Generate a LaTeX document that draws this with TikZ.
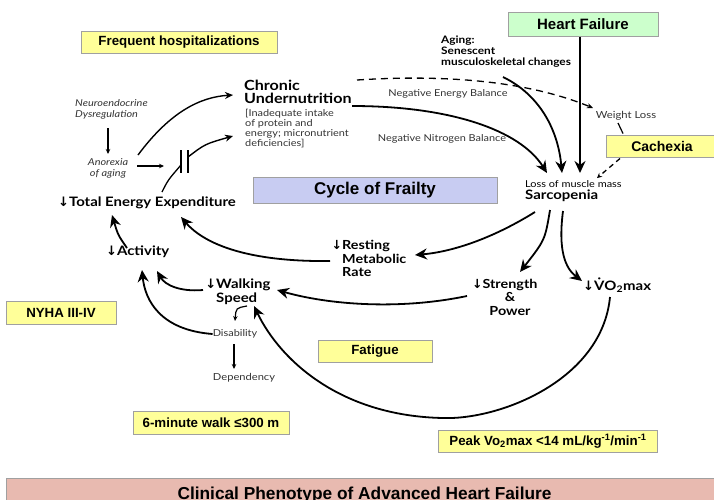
\documentclass[tikz,border=0pt]{standalone}
\usepackage{fontspec}
\setmainfont{Lato}[FakeStretch=1.15]
\newfontfamily\boxfont{Liberation Sans}
\newfontfamily\symfont{DejaVu Sans}
\usetikzlibrary{arrows.meta,calc}
\newcommand{\dn}{{\symfont\char"2193}}
\definecolor{ybox}{HTML}{FFFF99}
\definecolor{gbox}{HTML}{CCFFCC}
\definecolor{bbox}{HTML}{C8CCF2}
\definecolor{pbox}{HTML}{E8BAB0}
\definecolor{bord}{HTML}{A0A0A0}
\definecolor{txtgray}{HTML}{333333}
\tikzset{
  cbox/.style={draw=bord, line width=1pt, inner sep=0pt, font=\boxfont\bfseries\fontsize{13.3}{14}\selectfont},
  lbl/.style={inner sep=0pt},
  bigtext/.style={lbl, font=\bfseries\fontsize{13}{13}\selectfont, align=left},
  smalltext/.style={lbl, font=\fontsize{9.5}{10.5}\selectfont, text=txtgray},
  big/.style={line width=1.8pt, -{Stealth[length=12pt,width=11pt]}},
  mid/.style={line width=1.4pt, -{Stealth[length=8pt,width=7pt]}},
  thinarr/.style={line width=1.1pt, -{Stealth[length=5pt,width=4.5pt]}},
}
\begin{document}
\begin{tikzpicture}[x=1pt,y=-1pt]
\useasboundingbox (0,0) rectangle (714,499);
% boxes
\node[cbox, fill=ybox, minimum width=196pt, minimum height=22pt] (freq) at (179,42) {Frequent hospitalizations};
\node[cbox, fill=gbox, minimum width=150pt, minimum height=24pt, font=\boxfont\bfseries\fontsize{15}{16}\selectfont] (hf) at (583,24) {Heart Failure};
\node[cbox, fill=ybox, minimum width=112pt, minimum height=22pt, font=\boxfont\bfseries\fontsize{14}{15}\selectfont] (cach) at (662,146) {Cachexia};
\node[cbox, fill=bbox, minimum width=244pt, minimum height=26pt, font=\boxfont\bfseries\fontsize{17}{18}\selectfont] (cycle) at (375,190) {Cycle of Frailty};
\node[cbox, fill=ybox, minimum width=110pt, minimum height=23pt] (nyha) at (61,313) {NYHA III-IV};
\node[cbox, fill=ybox, minimum width=114pt, minimum height=22pt] (fat) at (375,351) {Fatigue};
\node[cbox, fill=ybox, minimum width=156pt, minimum height=23pt] (walk6) at (211,423) {6-minute walk ≤300 m};
\node[cbox, fill=ybox, minimum width=219pt, minimum height=22pt] (peak) at (548,441) {Peak Vo\textsubscript{2}max <14 mL/kg\textsuperscript{-1}/min\textsuperscript{-1}};
\node[cbox, fill=pbox, minimum width=716pt, minimum height=34pt, anchor=north west, font=\boxfont\bfseries\fontsize{17.3}{18}\selectfont] (clin) at (6,478) {\raisebox{2pt}{Clinical Phenotype of Advanced Heart Failure}};
% text nodes
\node[bigtext, anchor=north west, font=\bfseries\fontsize{14}{13}\selectfont] (chronic) at (244,80) {Chronic\\Undernutrition};
\node[smalltext, anchor=north west, align=left, font=\fontsize{9.5}{10}\selectfont] (inad) at (245,109) {[Inadequate intake\\of protein and\\energy; micronutrient\\deficiencies]};
\node[smalltext, anchor=north west, align=left, font=\itshape\fontsize{9.5}{11}\selectfont] (neuro) at (75,99) {Neuroendocrine\\Dysregulation};
\node[smalltext, anchor=north, align=center, font=\itshape\fontsize{9.5}{11}\selectfont] (anor) at (108,158) {Anorexia\\of aging};
\node[bigtext, anchor=north west] (tee) at (58,197) {\dn Total Energy Expenditure};
\node[bigtext, anchor=north west] (act) at (106,246) {\dn Activity};
\node[bigtext, anchor=north west, font=\bfseries\fontsize{12.5}{13.5}\selectfont] (rest) at (342,240) {\llap{\dn}Resting\\Metabolic\\Rate};
\node[bigtext, anchor=north west, font=\bfseries\fontsize{13}{13.5}\selectfont] (walkspd) at (216,279) {\llap{\dn}Walking\\Speed};
\node[bigtext, anchor=north, align=center, font=\bfseries\fontsize{12.5}{13.5}\selectfont] (str) at (510,279) {\llap{\dn}Strength\\\&\\Power};
\node[bigtext, anchor=north west] (vo) at (583,278) {\dn\.{V}O\textsubscript{2}max};
\node[smalltext, font=\fontsize{9.5}{10}\selectfont] (dis) at (235,334) {Disability};
\node[smalltext, font=\fontsize{9.7}{10}\selectfont] (dep) at (244,378) {Dependency};
\node[lbl, anchor=north west, align=left, font=\fontsize{9.5}{12}\selectfont] (sarc) at (525,180) {Loss of muscle mass\\{\bfseries\fontsize{13}{13}\selectfont Sarcopenia}};
\node[lbl, anchor=north west, align=left, font=\bfseries\fontsize{10.3}{11}\selectfont] (aging) at (441,36) {Aging:\\Senescent\\musculoskeletal changes};
\node[smalltext] (neb) at (448,94) {Negative Energy Balance};
\node[smalltext] (nnb) at (442,139) {Negative Nitrogen Balance};
\node[smalltext, font=\fontsize{9.8}{10}\selectfont] (wl) at (626,116) {Weight Loss};
% blocked symbol
\coordinate (barA) at (181,165);
\coordinate (barB) at (188,157);
\draw[line width=1.2pt] (181,150) -- (181,173);
\draw[line width=1.2pt] (188,150) -- (188,173);
% connectors
\draw[thinarr] ($(neuro.north west)+(33,29)$) -- ($(anor.north)+(0,-4)$);
\draw[thinarr] ($(anor.north)+(29,8)$) -- ($(barA)+(-17,1)$);
\draw[line width=1.3pt] ($(tee.north west)+(104,-5)$) .. controls (168,180) .. (barA);
\draw[mid] (barB) .. controls (205,144) .. ($(chronic.north west)+(-11,56)$);
\draw[mid] ($(anor.north)+(30,-3)$) .. controls (170,112) and (200,97) .. ($(chronic.north west)+(-11,15)$);
\draw[big] ($(act.north west)+(21,2)$) .. controls (118,235) .. ($(tee.north west)+(54,18)$);
\draw[big] ($(rest.north west)+(-12,21)$) .. controls (250,262) and (205,245) .. ($(tee.north west)+(123,20)$);
\draw[big] ($(sarc.north west)+(10,32)$) .. controls (490,240) and (450,252) .. ($(rest.north west)+(73,15)$);
\draw[big] ($(sarc.north west)+(25,30)$) .. controls (545,240) .. ($(str.north)+(10,-7)$);
\draw[big] ($(sarc.north west)+(38,31)$) .. controls (558,250) and (565,268) .. ($(vo.north west)+(-1,3)$);
\draw[big] ($(str.north)+(-43,17)$) .. controls (400,310) and (330,305) .. ($(walkspd.north west)+(61,11)$);
\draw[big] ($(walkspd.north west)+(-13,11)$) .. controls (180,292) and (165,285) .. ($(act.north west)+(51,25)$);
\draw[big] (dis.west) .. controls (160,330) and (145,300) .. ($(act.north west)+(36,24)$);
\draw[thinarr, line width=1.2pt] ($(walkspd.north west)+(31,27)$) .. controls (236,308) .. ($(dis.center)+(0,-13)$);
\draw[thinarr] ($(dis.center)+(-1,10)$) -- ($(dep.center)+(-10,-9)$);
\draw[big] ($(vo.north west)+(27,19)$) .. controls (602,380) and (500,420) .. (443,418) .. controls (340,416) and (280,360) .. ($(walkspd.north west)+(38,27)$);
\draw[big] ($(aging.north west)+(62,41)$) .. controls (540,95) and (558,130) .. ($(sarc.north west)+(37,-7)$);
\draw[big] ($(hf.south)+(-3,0)$) -- ($(sarc.north west)+(55,-7)$);
\draw[big] ($(chronic.north west)+(108,26)$) .. controls (450,106) and (520,130) .. ($(sarc.north west)+(22,-7)$);
\draw[line width=1.3pt, dash pattern=on 7pt off 5pt, -{Stealth[length=6pt,width=5pt]}] ($(chronic.north west)+(113,0)$) .. controls (450,74) and (530,82) .. ($(wl.center)+(-33,-8)$);
\draw[line width=1.2pt] ($(wl.center)+(-8,7)$) -- ($(cach.north)+(-39,-1)$);
\draw[line width=1.3pt, dash pattern=on 5pt off 4pt, -{Stealth[length=5pt,width=5pt]}] ($(cach.south)+(-42,1)$) -- ($(sarc.north west)+(72,-2)$);
\end{tikzpicture}
\end{document}
